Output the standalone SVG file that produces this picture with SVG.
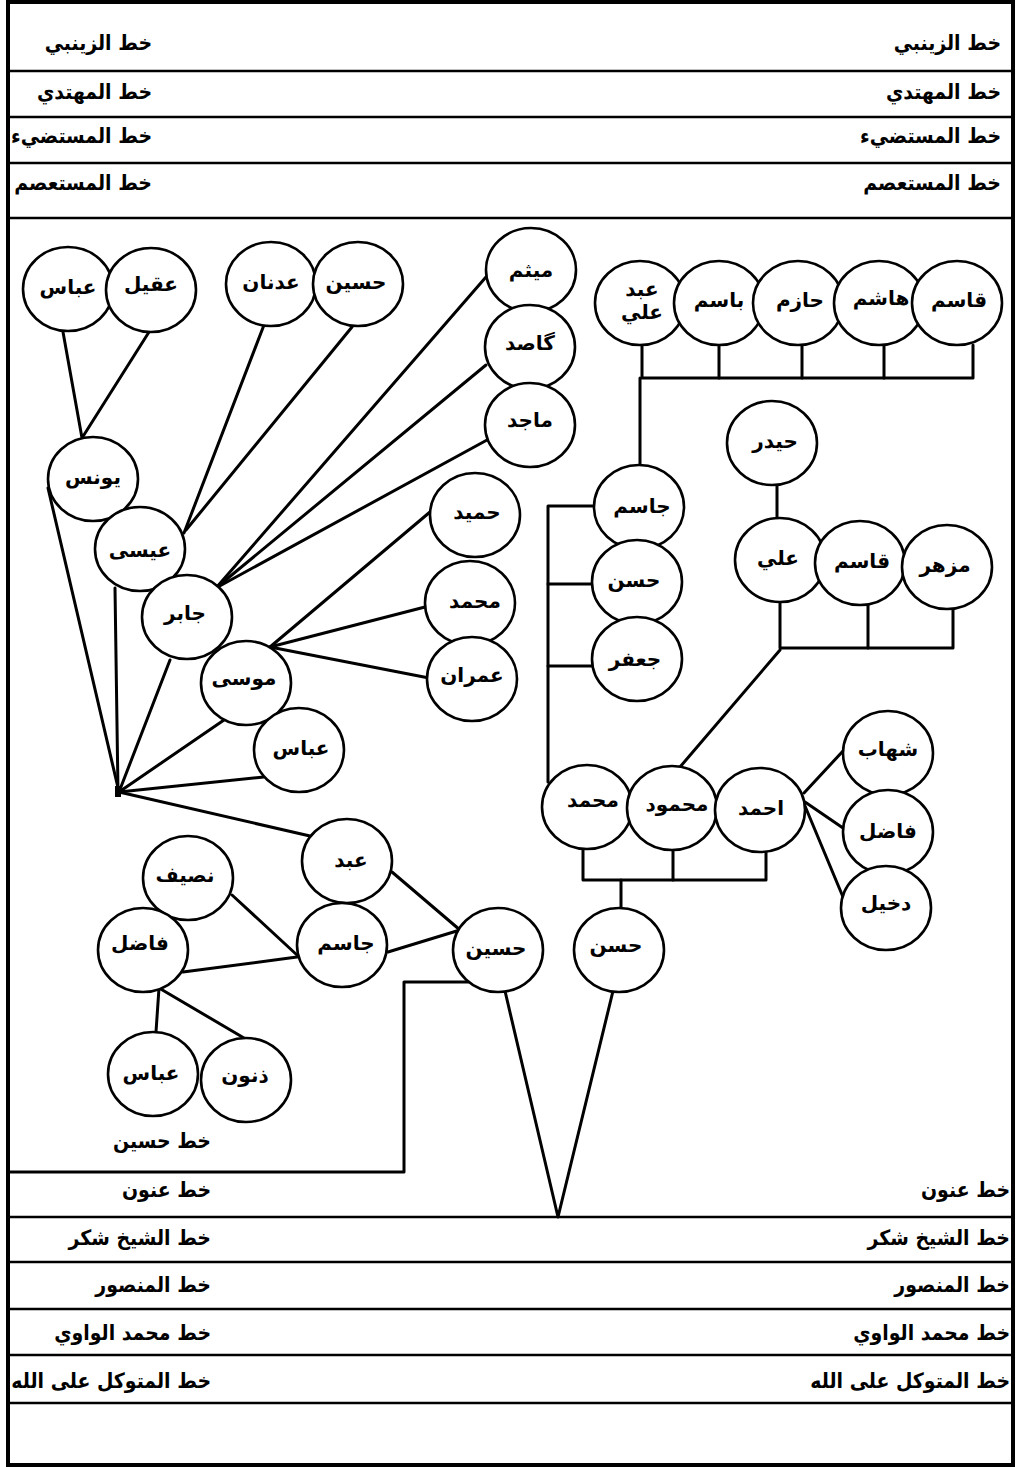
<svg xmlns="http://www.w3.org/2000/svg" width="1020" height="1467" viewBox="0 0 1020 1467">
<style>
.frame{fill:none;stroke:#000;stroke-width:4}
.rule{stroke:#000;stroke-width:2.5;fill:none}
.c{stroke:#000;stroke-width:3;fill:none;stroke-linecap:round;stroke-linejoin:round}
.n ellipse{fill:#fff;stroke:#000;stroke-width:2.6}
.n text{font-family:"DejaVu Sans",sans-serif;font-weight:bold;font-size:20px;text-anchor:middle;dominant-baseline:central;fill:#000}
.h{font-family:"DejaVu Sans Condensed","DejaVu Sans",sans-serif;font-weight:bold;font-size:21px;text-anchor:end;dominant-baseline:central;fill:#000}
</style>
<rect width="1020" height="1467" fill="#fff"/>
<g id="frame">
<rect class="frame" x="8" y="2" width="1005" height="1463"/>
<line class="rule" x1="8" y1="71" x2="1013" y2="71"/>
<line class="rule" x1="8" y1="117" x2="1013" y2="117"/>
<line class="rule" x1="8" y1="163" x2="1013" y2="163"/>
<line class="rule" x1="8" y1="218" x2="1013" y2="218"/>
<line class="rule" x1="8" y1="1217" x2="1013" y2="1217"/>
<line class="rule" x1="8" y1="1262" x2="1013" y2="1262"/>
<line class="rule" x1="8" y1="1309" x2="1013" y2="1309"/>
<line class="rule" x1="8" y1="1355" x2="1013" y2="1355"/>
<line class="rule" x1="8" y1="1403" x2="1013" y2="1403"/>
</g>
<g id="labels">
<text class="h" x="152" y="43">خط الزينبي</text>
<text class="h" x="1001" y="43">خط الزينبي</text>
<text class="h" x="152" y="92">خط المهتدي</text>
<text class="h" x="1001" y="92">خط المهتدي</text>
<text class="h" x="152" y="136">خط المستضيء</text>
<text class="h" x="1001" y="136">خط المستضيء</text>
<text class="h" x="152" y="183">خط المستعصم</text>
<text class="h" x="1001" y="183">خط المستعصم</text>
<text class="h" x="211" y="1141">خط حسين</text>
<text class="h" x="211" y="1190">خط عنون</text>
<text class="h" x="1010" y="1190">خط عنون</text>
<text class="h" x="211" y="1238">خط الشيخ شكر</text>
<text class="h" x="1010" y="1238">خط الشيخ شكر</text>
<text class="h" x="211" y="1285">خط المنصور</text>
<text class="h" x="1010" y="1285">خط المنصور</text>
<text class="h" x="211" y="1333">خط محمد الواوي</text>
<text class="h" x="1010" y="1333">خط محمد الواوي</text>
<text class="h" x="211" y="1381">خط المتوكل على الله</text>
<text class="h" x="1010" y="1381">خط المتوكل على الله</text>
</g>
<g id="connectors">
<polyline class="c" points="63,332 82,438 149,332"/>
<line class="c" x1="264" y1="325" x2="184" y2="533"/>
<line class="c" x1="352" y1="327" x2="186" y2="530"/>
<line class="c" x1="486" y1="277" x2="216" y2="588"/>
<line class="c" x1="486" y1="365" x2="216" y2="588"/>
<line class="c" x1="487" y1="440" x2="216" y2="588"/>
<line class="c" x1="430" y1="512" x2="270" y2="647"/>
<line class="c" x1="425" y1="607" x2="270" y2="647"/>
<line class="c" x1="429" y1="678" x2="270" y2="647"/>
<line class="c" x1="48" y1="488" x2="119" y2="792"/>
<line class="c" x1="115" y1="588" x2="118" y2="792"/>
<line class="c" x1="170" y1="660" x2="119" y2="792"/>
<line class="c" x1="224" y1="720" x2="119" y2="792"/>
<line class="c" x1="264" y1="777" x2="119" y2="792"/>
<line class="c" x1="119" y1="792" x2="310" y2="836"/>
<rect x="115" y="786" width="6" height="11" fill="#000"/>
<line class="c" x1="232" y1="895" x2="297" y2="955"/>
<line class="c" x1="183" y1="972" x2="297" y2="957"/>
<line class="c" x1="392" y1="872" x2="460" y2="930"/>
<line class="c" x1="388" y1="952" x2="460" y2="930"/>
<line class="c" x1="159" y1="988" x2="156" y2="1032"/>
<line class="c" x1="159" y1="988" x2="244" y2="1038"/>
<polyline class="c" points="470,982 404,982 404,1172 8,1172"/>
<polyline class="c" points="505,991 558,1217 613,991"/>
<polyline class="c" points="642,346 642,378 973,378 973,345"/>
<line class="c" x1="719" y1="345" x2="719" y2="378"/>
<line class="c" x1="802" y1="345" x2="802" y2="378"/>
<line class="c" x1="884" y1="345" x2="884" y2="378"/>
<line class="c" x1="640" y1="378" x2="640" y2="465"/>
<polyline class="c" points="594,506 548,506 548,782"/>
<line class="c" x1="548" y1="584" x2="592" y2="584"/>
<line class="c" x1="548" y1="666" x2="592" y2="666"/>
<line class="c" x1="777" y1="485" x2="777" y2="518"/>
<polyline class="c" points="780,602 780,648 953,648 953,609"/>
<line class="c" x1="868" y1="605" x2="868" y2="648"/>
<line class="c" x1="780" y1="650" x2="680" y2="767"/>
<polyline class="c" points="583,849 583,880 766,880 766,852"/>
<line class="c" x1="673" y1="850" x2="673" y2="880"/>
<line class="c" x1="621" y1="880" x2="621" y2="908"/>
<line class="c" x1="804" y1="793" x2="843" y2="751"/>
<line class="c" x1="805" y1="802" x2="843" y2="828"/>
<line class="c" x1="805" y1="806" x2="843" y2="897"/>
</g>
<g id="n1" class="n"><ellipse cx="68" cy="289" rx="45" ry="42"/><text x="68" y="287">عباس</text></g>
<g id="n2" class="n"><ellipse cx="151" cy="290" rx="45" ry="42"/><text x="151" y="284">عقيل</text></g>
<g id="n3" class="n"><ellipse cx="271" cy="284" rx="45" ry="42"/><text x="271" y="282">عدنان</text></g>
<g id="n4" class="n"><ellipse cx="358" cy="284" rx="45" ry="42"/><text x="356" y="282">حسين</text></g>
<g id="n5" class="n"><ellipse cx="531" cy="270" rx="45" ry="42"/><text x="531" y="270">ميثم</text></g>
<g id="n6" class="n"><ellipse cx="530" cy="347" rx="45" ry="42"/><text x="530" y="343">گاصد</text></g>
<g id="n7" class="n"><ellipse cx="530" cy="425" rx="45" ry="42"/><text x="530" y="420">ماجد</text></g>
<g id="n8" class="n"><ellipse cx="93" cy="479" rx="45" ry="42"/><text x="93" y="477">يونس</text></g>
<g id="n9" class="n"><ellipse cx="140" cy="549" rx="45" ry="42"/><text x="140" y="550">عيسى</text></g>
<g id="n10" class="n"><ellipse cx="187" cy="617" rx="45" ry="42"/><text x="185" y="613">جابر</text></g>
<g id="n11" class="n"><ellipse cx="246" cy="683" rx="45" ry="42"/><text x="244" y="678">موسى</text></g>
<g id="n12" class="n"><ellipse cx="299" cy="750" rx="45" ry="42"/><text x="301" y="748">عباس</text></g>
<g id="n13" class="n"><ellipse cx="475" cy="515" rx="45" ry="42"/><text x="477" y="512">حميد</text></g>
<g id="n14" class="n"><ellipse cx="470" cy="603" rx="45" ry="42"/><text x="475" y="601">محمد</text></g>
<g id="n15" class="n"><ellipse cx="472" cy="679" rx="45" ry="42"/><text x="472" y="675">عمران</text></g>
<g id="n16" class="n"><ellipse cx="347" cy="861" rx="45" ry="42"/><text x="351" y="860">عبد</text></g>
<g id="n17" class="n"><ellipse cx="188" cy="878" rx="45" ry="42"/><text x="185" y="875">نصيف</text></g>
<g id="n18" class="n"><ellipse cx="143" cy="950" rx="45" ry="42"/><text x="140" y="943">فاضل</text></g>
<g id="n19" class="n"><ellipse cx="342" cy="945" rx="45" ry="42"/><text x="346" y="943">جاسم</text></g>
<g id="n20" class="n"><ellipse cx="498" cy="950" rx="45" ry="42"/><text x="496" y="948">حسين</text></g>
<g id="n21" class="n"><ellipse cx="153" cy="1074" rx="45" ry="42"/><text x="151" y="1073">عباس</text></g>
<g id="n22" class="n"><ellipse cx="246" cy="1080" rx="45" ry="42"/><text x="245" y="1075">ذنون</text></g>
<g id="n23" class="n"><ellipse cx="640" cy="303" rx="45" ry="42"/><text x="642" y="289">عبد</text><text x="642" y="312">علي</text></g>
<g id="n24" class="n"><ellipse cx="719" cy="303" rx="45" ry="42"/><text x="719" y="300">باسم</text></g>
<g id="n25" class="n"><ellipse cx="798" cy="303" rx="45" ry="42"/><text x="800" y="300">حازم</text></g>
<g id="n26" class="n"><ellipse cx="879" cy="303" rx="45" ry="42"/><text x="881" y="298">هاشم</text></g>
<g id="n27" class="n"><ellipse cx="957" cy="303" rx="45" ry="42"/><text x="959" y="300">قاسم</text></g>
<g id="n28" class="n"><ellipse cx="772" cy="443" rx="45" ry="42"/><text x="775" y="441">حيدر</text></g>
<g id="n29" class="n"><ellipse cx="780" cy="560" rx="45" ry="42"/><text x="778" y="558">علي</text></g>
<g id="n30" class="n"><ellipse cx="860" cy="563" rx="45" ry="42"/><text x="862" y="561">قاسم</text></g>
<g id="n31" class="n"><ellipse cx="947" cy="567" rx="45" ry="42"/><text x="945" y="565">مزهر</text></g>
<g id="n32" class="n"><ellipse cx="639" cy="507" rx="45" ry="42"/><text x="642" y="506">جاسم</text></g>
<g id="n33" class="n"><ellipse cx="637" cy="582" rx="45" ry="42"/><text x="634" y="580">حسن</text></g>
<g id="n34" class="n"><ellipse cx="637" cy="659" rx="45" ry="42"/><text x="635" y="659">جعفر</text></g>
<g id="n35" class="n"><ellipse cx="587" cy="807" rx="45" ry="42"/><text x="593" y="800">محمد</text></g>
<g id="n36" class="n"><ellipse cx="672" cy="808" rx="45" ry="42"/><text x="677" y="804">محمود</text></g>
<g id="n37" class="n"><ellipse cx="760" cy="810" rx="45" ry="42"/><text x="761" y="808">احمد</text></g>
<g id="n38" class="n"><ellipse cx="888" cy="753" rx="45" ry="42"/><text x="888" y="749">شهاب</text></g>
<g id="n39" class="n"><ellipse cx="888" cy="832" rx="45" ry="42"/><text x="888" y="831">فاضل</text></g>
<g id="n40" class="n"><ellipse cx="886" cy="908" rx="45" ry="42"/><text x="886" y="903">دخيل</text></g>
<g id="n41" class="n"><ellipse cx="619" cy="950" rx="45" ry="42"/><text x="616" y="945">حسن</text></g>
</svg>
